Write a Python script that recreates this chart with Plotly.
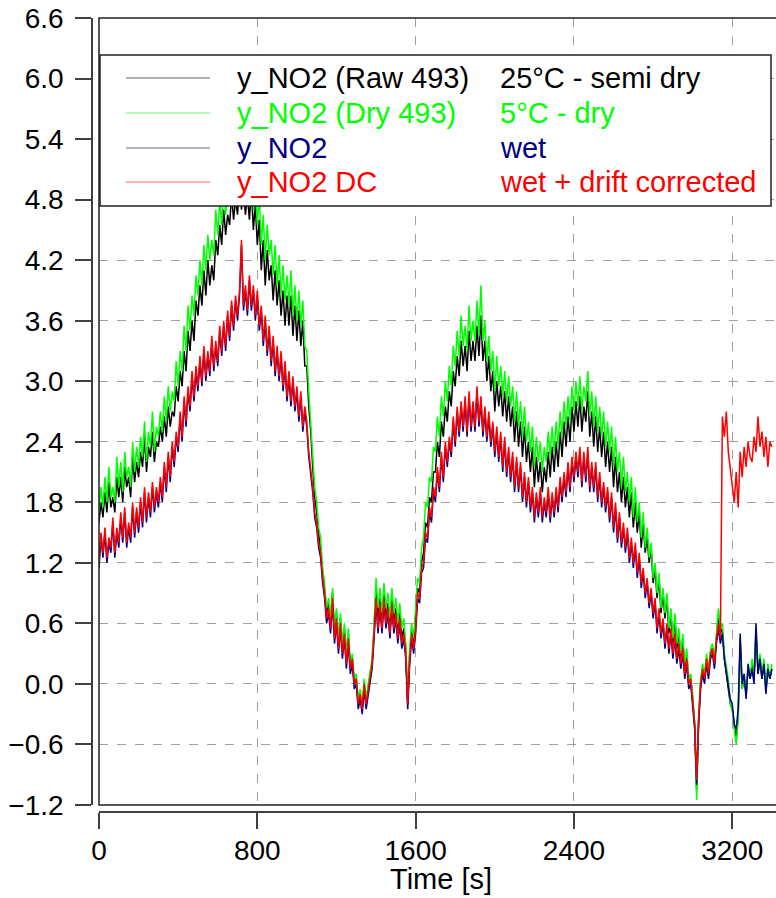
import plotly.graph_objects as go

# sample times [s], one reading every 10 s
time_s = list(range(0, 3401, 10))

# y_NO2 (Raw 493), 25°C - semi dry
y_raw = [1.60, 1.80, 1.65, 1.90, 1.70, 2.00, 1.75, 1.85, 1.70, 2.05,
         1.85, 2.05, 1.80, 2.15, 1.95, 2.05, 1.85, 2.25, 2.00, 2.20,
         2.05, 2.30, 2.15, 2.45, 2.10, 2.35, 2.25, 2.50, 2.20, 2.40,
         2.35, 2.55, 2.40, 2.65, 2.45, 2.75, 2.55, 2.70, 2.65, 2.95,
         2.80, 3.10, 2.95, 3.30, 3.10, 3.50, 3.30, 3.60, 3.40, 3.80,
         3.65, 3.95, 3.75, 4.10, 3.85, 4.20, 3.95, 4.15, 4.00, 4.40,
         4.25, 4.55, 4.35, 4.70, 4.45, 4.65, 4.55, 4.85, 4.60, 4.80,
         4.65, 4.95, 4.70, 4.90, 4.65, 4.85, 4.60, 4.90, 4.50, 4.75,
         4.35, 4.60, 4.10, 4.40, 3.95, 4.30, 4.00, 4.15, 3.80, 4.10,
         3.75, 4.00, 3.65, 3.90, 3.55, 3.85, 3.55, 3.85, 3.45, 3.75,
         3.40, 3.70, 3.35, 3.60, 3.15, 3.15, 2.75, 2.50, 2.15, 1.85,
         1.70, 1.50, 1.35, 1.10, 0.95, 0.70, 0.80, 0.60, 0.90, 0.50,
         0.70, 0.40, 0.65, 0.35, 0.55, 0.25, 0.50, 0.15, 0.25, 0.00,
         0.05, -0.20, -0.10, -0.25, 0.00, -0.20, -0.05, 0.10, 0.20, 0.55,
         0.95, 0.65, 0.85, 0.60, 0.90, 0.65, 0.80, 0.55, 0.85, 0.60,
         0.75, 0.50, 0.70, 0.45, 0.55, 0.35, -0.20, 0.30, 0.55, 0.40,
         0.65, 0.95, 0.90, 1.20, 1.30, 1.60, 1.55, 1.85, 1.80, 2.10,
         2.10, 2.40, 2.25, 2.60, 2.45, 2.75, 2.60, 2.90, 2.75, 3.10,
         2.95, 3.25, 3.05, 3.40, 3.15, 3.35, 3.10, 3.50, 3.20, 3.40,
         3.20, 3.55, 3.25, 3.65, 3.20, 3.40, 3.00, 3.25, 2.90, 3.10,
         2.70, 3.00, 2.75, 2.95, 2.65, 2.90, 2.60, 2.85, 2.55, 2.75,
         2.40, 2.70, 2.35, 2.60, 2.25, 2.55, 2.20, 2.40, 2.10, 2.35,
         1.95, 2.25, 2.00, 2.20, 1.90, 2.15, 2.00, 2.30, 2.05, 2.35,
         2.10, 2.40, 2.15, 2.50, 2.25, 2.60, 2.35, 2.65, 2.40, 2.75,
         2.50, 2.80, 2.55, 2.85, 2.50, 2.75, 2.60, 2.90, 2.45, 2.70,
         2.35, 2.65, 2.30, 2.55, 2.25, 2.50, 2.15, 2.40, 2.10, 2.35,
         1.95, 2.25, 1.90, 2.10, 1.80, 2.05, 1.75, 1.95, 1.65, 1.90,
         1.55, 1.80, 1.50, 1.70, 1.35, 1.60, 1.30, 1.45, 1.20, 1.35,
         1.00, 1.15, 0.85, 1.05, 0.70, 0.90, 0.65, 0.85, 0.50, 0.70,
         0.40, 0.65, 0.35, 0.50, 0.25, 0.45, 0.15, 0.30, 0.00, 0.05,
         -0.15, -0.40, -1.05, -0.35, 0.00, 0.15, 0.05, 0.25, 0.10, 0.30,
         0.35, 0.20, 0.45, 0.65, 0.50, 0.55, 0.25, 0.10, 0.00, -0.20,
         -0.25, -0.40, -0.55, -0.30, 0.40, -0.05, 0.05, -0.10, 0.15, 0.05,
         0.20, 0.05, 0.50, 0.10, 0.25, 0.05, 0.20, -0.05, 0.15, 0.05,
         0.15]

# y_NO2 (Dry 493), 5°C - dry
y_dry = [1.70, 1.95, 1.75, 2.05, 1.80, 2.15, 1.85, 1.95, 1.80, 2.25,
         1.95, 2.20, 1.90, 2.30, 2.05, 2.15, 1.95, 2.40, 2.10, 2.35,
         2.15, 2.45, 2.25, 2.60, 2.20, 2.50, 2.35, 2.70, 2.30, 2.55,
         2.45, 2.70, 2.50, 2.85, 2.60, 2.95, 2.70, 2.90, 2.80, 3.20,
         2.95, 3.30, 3.10, 3.55, 3.30, 3.75, 3.50, 3.85, 3.65, 4.05,
         3.85, 4.20, 3.95, 4.35, 4.10, 4.45, 4.20, 4.40, 4.25, 4.70,
         4.45, 4.80, 4.55, 4.95, 4.65, 4.90, 4.75, 5.10, 4.80, 5.05,
         4.85, 5.20, 4.90, 5.15, 4.85, 5.05, 4.80, 5.10, 4.70, 4.95,
         4.55, 4.85, 4.35, 4.65, 4.20, 4.55, 4.25, 4.40, 4.05, 4.35,
         3.95, 4.25, 3.85, 4.15, 3.80, 4.05, 3.75, 4.10, 3.65, 3.95,
         3.60, 3.90, 3.55, 3.80, 3.35, 3.30, 2.90, 2.60, 2.25, 1.95,
         1.80, 1.55, 1.45, 1.15, 1.00, 0.75, 0.85, 0.65, 0.95, 0.55,
         0.75, 0.45, 0.70, 0.40, 0.60, 0.30, 0.55, 0.20, 0.30, 0.05,
         0.10, -0.15, -0.05, -0.25, 0.05, -0.15, 0.00, 0.15, 0.25, 0.60,
         1.05, 0.75, 0.95, 0.70, 1.00, 0.75, 0.90, 0.65, 0.95, 0.70,
         0.85, 0.60, 0.80, 0.55, 0.65, 0.40, -0.15, 0.35, 0.60, 0.45,
         0.75, 1.05, 1.00, 1.35, 1.45, 1.80, 1.75, 2.05, 2.00, 2.35,
         2.30, 2.65, 2.45, 2.85, 2.65, 3.00, 2.80, 3.15, 2.95, 3.35,
         3.15, 3.50, 3.25, 3.65, 3.35, 3.55, 3.30, 3.75, 3.40, 3.60,
         3.40, 3.80, 3.45, 3.95, 3.40, 3.60, 3.20, 3.45, 3.10, 3.30,
         2.90, 3.25, 2.95, 3.15, 2.85, 3.10, 2.80, 3.05, 2.75, 2.95,
         2.60, 2.90, 2.55, 2.80, 2.45, 2.75, 2.40, 2.60, 2.30, 2.55,
         2.15, 2.45, 2.20, 2.40, 2.10, 2.35, 2.20, 2.50, 2.25, 2.55,
         2.30, 2.60, 2.35, 2.70, 2.45, 2.80, 2.55, 2.85, 2.60, 2.95,
         2.70, 3.00, 2.75, 3.05, 2.70, 2.95, 2.80, 3.10, 2.65, 2.90,
         2.55, 2.85, 2.50, 2.75, 2.45, 2.70, 2.35, 2.60, 2.30, 2.55,
         2.15, 2.45, 2.10, 2.30, 1.95, 2.25, 1.90, 2.10, 1.80, 2.05,
         1.65, 1.95, 1.60, 1.80, 1.45, 1.70, 1.35, 1.55, 1.25, 1.40,
         1.05, 1.20, 0.90, 1.10, 0.75, 0.95, 0.70, 0.90, 0.55, 0.75,
         0.45, 0.70, 0.40, 0.55, 0.30, 0.50, 0.20, 0.35, 0.05, 0.10,
         -0.10, -0.40, -1.15, -0.35, 0.05, 0.20, 0.10, 0.30, 0.15, 0.35,
         0.40, 0.25, 0.50, 0.75, 0.55, 0.60, 0.30, 0.15, 0.05, -0.20,
         -0.25, -0.45, -0.60, -0.35, 0.45, -0.05, 0.10, -0.10, 0.20, 0.05,
         0.25, 0.10, 0.55, 0.15, 0.30, 0.10, 0.25, -0.05, 0.20, 0.05,
         0.20]

# y_NO2, wet
y_wet = [1.15, 1.45, 1.25, 1.50, 1.20, 1.40, 1.30, 1.60, 1.25, 1.50,
         1.35, 1.65, 1.40, 1.70, 1.35, 1.55, 1.40, 1.75, 1.45, 1.70,
         1.50, 1.80, 1.55, 1.90, 1.60, 1.85, 1.65, 1.95, 1.70, 1.90,
         1.75, 2.00, 1.80, 2.15, 1.90, 2.25, 2.00, 2.35, 2.15, 2.45,
         2.30, 2.65, 2.40, 2.80, 2.55, 2.90, 2.70, 3.05, 2.80, 3.10,
         2.90, 3.20, 2.95, 3.30, 3.00, 3.25, 3.05, 3.40, 3.10, 3.35,
         3.15, 3.50, 3.25, 3.55, 3.30, 3.65, 3.40, 3.75, 3.50, 3.80,
         3.60, 3.85, 4.35, 3.70, 3.90, 3.65, 4.00, 3.70, 3.90, 3.60,
         3.85, 3.50, 3.70, 3.35, 3.60, 3.25, 3.50, 3.15, 3.40, 3.05,
         3.30, 3.00, 3.25, 2.90, 3.15, 2.80, 3.05, 2.75, 3.00, 2.70,
         2.90, 2.60, 2.85, 2.50, 2.70, 2.55, 2.25, 2.10, 1.90, 1.65,
         1.55, 1.35, 1.25, 1.00, 0.85, 0.60, 0.70, 0.50, 0.80, 0.40,
         0.60, 0.30, 0.55, 0.25, 0.45, 0.15, 0.40, 0.10, 0.20, -0.05,
         0.00, -0.25, -0.15, -0.30, -0.05, -0.25, -0.10, 0.05, 0.15, 0.45,
         0.80, 0.50, 0.75, 0.50, 0.80, 0.55, 0.70, 0.45, 0.75, 0.50,
         0.65, 0.40, 0.60, 0.35, 0.45, 0.25, -0.25, 0.20, 0.45, 0.30,
         0.50, 0.85, 0.80, 1.10, 1.15, 1.45, 1.40, 1.70, 1.60, 1.90,
         1.80, 2.10, 1.90, 2.25, 2.00, 2.35, 2.15, 2.40, 2.25, 2.60,
         2.35, 2.70, 2.45, 2.75, 2.50, 2.80, 2.45, 2.85, 2.50, 2.75,
         2.50, 2.90, 2.55, 2.80, 2.45, 2.70, 2.40, 2.65, 2.35, 2.55,
         2.25, 2.50, 2.20, 2.45, 2.10, 2.40, 2.05, 2.30, 2.00, 2.25,
         1.90, 2.20, 1.90, 2.15, 1.80, 2.05, 1.75, 2.00, 1.70, 1.90,
         1.60, 1.85, 1.65, 1.90, 1.60, 1.80, 1.65, 1.90, 1.60, 1.85,
         1.65, 1.90, 1.70, 2.00, 1.80, 2.05, 1.85, 2.15, 1.90, 2.20,
         2.00, 2.25, 2.05, 2.30, 1.95, 2.25, 2.00, 2.30, 1.90, 2.15,
         1.90, 2.15, 1.80, 2.05, 1.75, 1.95, 1.70, 1.90, 1.60, 1.85,
         1.50, 1.75, 1.40, 1.65, 1.35, 1.55, 1.30, 1.50, 1.20, 1.40,
         1.15, 1.35, 1.05, 1.25, 0.95, 1.10, 0.85, 1.00, 0.75, 0.90,
         0.65, 0.80, 0.50, 0.70, 0.45, 0.60, 0.35, 0.55, 0.30, 0.50,
         0.25, 0.45, 0.20, 0.35, 0.15, 0.30, 0.05, 0.20, -0.05, 0.00,
         -0.20, -0.45, -1.00, -0.40, -0.05, 0.10, 0.00, 0.20, 0.05, 0.25,
         0.30, 0.15, 0.40, 0.55, 0.40, 0.50, 0.25, 0.10, 0.00, -0.15,
         -0.20, -0.40, -0.45, -0.25, 0.50, 0.00, 0.10, -0.15, 0.20, 0.05,
         0.15, 0.00, 0.60, 0.10, 0.25, 0.05, 0.20, -0.10, 0.15, 0.05,
         0.15]

# y_NO2 DC, wet + drift corrected
y_dc = [1.20, 1.50, 1.30, 1.55, 1.25, 1.45, 1.35, 1.65, 1.30, 1.55,
        1.40, 1.70, 1.45, 1.75, 1.40, 1.60, 1.45, 1.80, 1.50, 1.75,
        1.55, 1.85, 1.60, 1.95, 1.65, 1.90, 1.70, 2.00, 1.75, 1.95,
        1.80, 2.05, 1.85, 2.20, 1.95, 2.30, 2.05, 2.40, 2.20, 2.50,
        2.35, 2.70, 2.45, 2.85, 2.60, 2.95, 2.75, 3.10, 2.85, 3.15,
        2.95, 3.25, 3.00, 3.35, 3.05, 3.30, 3.10, 3.45, 3.15, 3.40,
        3.20, 3.55, 3.30, 3.60, 3.35, 3.70, 3.45, 3.80, 3.55, 3.85,
        3.65, 3.90, 4.40, 3.75, 3.95, 3.70, 4.05, 3.75, 3.95, 3.65,
        3.90, 3.55, 3.75, 3.40, 3.65, 3.30, 3.55, 3.20, 3.45, 3.10,
        3.35, 3.05, 3.30, 2.95, 3.20, 2.85, 3.10, 2.80, 3.05, 2.75,
        2.95, 2.65, 2.90, 2.55, 2.75, 2.60, 2.30, 2.15, 1.95, 1.70,
        1.60, 1.40, 1.30, 1.05, 0.90, 0.65, 0.75, 0.55, 0.85, 0.45,
        0.65, 0.35, 0.60, 0.30, 0.50, 0.20, 0.45, 0.15, 0.25, 0.00,
        0.05, -0.20, -0.10, -0.25, 0.00, -0.20, -0.05, 0.10, 0.20, 0.50,
        0.85, 0.55, 0.80, 0.55, 0.85, 0.60, 0.75, 0.50, 0.80, 0.55,
        0.70, 0.45, 0.65, 0.40, 0.50, 0.30, -0.20, 0.25, 0.50, 0.35,
        0.55, 0.90, 0.85, 1.15, 1.20, 1.50, 1.45, 1.75, 1.65, 1.95,
        1.85, 2.15, 1.95, 2.30, 2.05, 2.40, 2.20, 2.45, 2.30, 2.65,
        2.40, 2.75, 2.50, 2.80, 2.55, 2.85, 2.50, 2.90, 2.55, 2.80,
        2.55, 2.95, 2.60, 2.85, 2.50, 2.75, 2.45, 2.70, 2.40, 2.60,
        2.30, 2.55, 2.25, 2.50, 2.15, 2.45, 2.10, 2.35, 2.05, 2.30,
        1.95, 2.25, 1.95, 2.20, 1.85, 2.10, 1.80, 2.05, 1.75, 1.95,
        1.65, 1.90, 1.70, 1.95, 1.65, 1.85, 1.70, 1.95, 1.65, 1.90,
        1.70, 1.95, 1.75, 2.05, 1.85, 2.10, 1.90, 2.20, 1.95, 2.25,
        2.05, 2.30, 2.10, 2.35, 2.00, 2.30, 2.05, 2.35, 1.95, 2.20,
        1.95, 2.20, 1.85, 2.10, 1.80, 2.00, 1.75, 1.95, 1.65, 1.90,
        1.55, 1.80, 1.45, 1.70, 1.40, 1.60, 1.35, 1.55, 1.25, 1.45,
        1.20, 1.40, 1.10, 1.30, 1.00, 1.15, 0.90, 1.05, 0.80, 0.95,
        0.70, 0.85, 0.55, 0.75, 0.50, 0.65, 0.40, 0.60, 0.35, 0.55,
        0.30, 0.50, 0.25, 0.40, 0.20, 0.35, 0.10, 0.25, 0.00, 0.05,
        -0.15, -0.40, -0.95, -0.35, 0.00, 0.15, 0.05, 0.25, 0.10, 0.30,
        0.35, 0.20, 0.45, 0.60, 0.45, 2.65, 2.45, 2.70, 2.30, 2.15,
        2.00, 1.80, 2.10, 1.75, 2.30, 2.05, 2.35, 2.15, 2.40, 2.25,
        2.20, 2.45, 2.30, 2.65, 2.35, 2.50, 2.25, 2.45, 2.15, 2.40,
        2.35]

names = ['y_NO2 (Raw 493)', 'y_NO2 (Dry 493)', 'y_NO2', 'y_NO2 DC']
conditions = ['25°C - semi dry', '5°C - dry', 'wet', 'wet + drift corrected']
colors = ['#000000', '#00ff00', '#000080', '#ff0000']
series = [y_raw, y_dry, y_wet, y_dc]

FONT = 'Arial, Liberation Sans, sans-serif'
W, H = 776, 898
ML, MR, MT, MB = 92, 0, 18, 86


def px(x, y):
    # pixel position -> paper coords
    return (x - ML) / (W - ML - MR), (H - MB - y) / (H - MT - MB)


fig = go.Figure()
for name, ys, c in zip(names, series, colors):
    fig.add_trace(go.Scatter(x=time_s, y=ys, mode='lines', name=name,
                             line=dict(color=c, width=1.5), showlegend=False))

axis_common = dict(showgrid=True, gridcolor='#a0a0a0', griddash='dash', gridwidth=1,
                   zeroline=False, showline=True, linecolor='#404040', linewidth=1.5,
                   ticks='outside', ticklen=16, tickwidth=1.5, tickcolor='#404040',
                   tickfont=dict(family=FONT, size=28, color='black'),
                   anchor='free', position=0)

fig.update_layout(
    width=W, height=H,
    margin=dict(l=ML, r=MR, t=MT, b=MB),
    plot_bgcolor='white', paper_bgcolor='white',
    font=dict(family=FONT, color='black'),
    xaxis=dict(range=[0, 3421], tick0=0, dtick=800, domain=[7 / 684, 1],
               ticklabelstandoff=-2, **axis_common),
    yaxis=dict(range=[-1.2, 6.6], tick0=-1.2, dtick=0.6, tickformat='.1f',
               domain=[7 / 794, 1], ticklabelstandoff=6, **axis_common),
)

shapes = [dict(type='rect', xref='x domain', yref='y domain', x0=0, x1=1.02, y0=0, y1=1,
               line=dict(color='#202020', width=1.5), layer='above')]

# legend box drawn over the data
lx0, ly0 = px(100, 55)
lx1, ly1 = px(771, 206)
shapes.append(dict(type='rect', xref='paper', yref='paper', x0=lx0, x1=lx1, y0=ly1, y1=ly0,
                   fillcolor='white', line=dict(color='#202020', width=1.5), layer='above'))

annotations = []
row_y = [78, 113, 148, 182]
for i, (name, cond, c) in enumerate(zip(names, conditions, colors)):
    a0, yy = px(126, row_y[i])
    a1, _ = px(210, row_y[i])
    shapes.append(dict(type='line', xref='paper', yref='paper', x0=a0, x1=a1, y0=yy, y1=yy,
                       line=dict(color=c, width=1.2), opacity=0.6, layer='above'))
    tx, ty = px(235, row_y[i])
    annotations.append(dict(x=tx, y=ty, xref='paper', yref='paper', text=name, showarrow=False,
                            xanchor='left', yanchor='middle',
                            font=dict(family=FONT, size=29, color=c)))
    tx2, _ = px(498, row_y[i])
    annotations.append(dict(x=tx2, y=ty, xref='paper', yref='paper', text=cond, showarrow=False,
                            xanchor='left', yanchor='middle',
                            font=dict(family=FONT, size=29, color=c)))

ttx, tty = px(441, 879)
annotations.append(dict(x=ttx, y=tty, xref='paper', yref='paper', text='Time [s]', showarrow=False,
                        xanchor='center', yanchor='middle', font=dict(family=FONT, size=29, color='black')))

fig.update_layout(shapes=shapes, annotations=annotations)

# page body has a default 8px margin; drop it so the figure fills the window
fig.write_html('out.html', config={'displayModeBar': False},
               post_script="document.body.style.margin='0';document.body.style.overflow='hidden';")
